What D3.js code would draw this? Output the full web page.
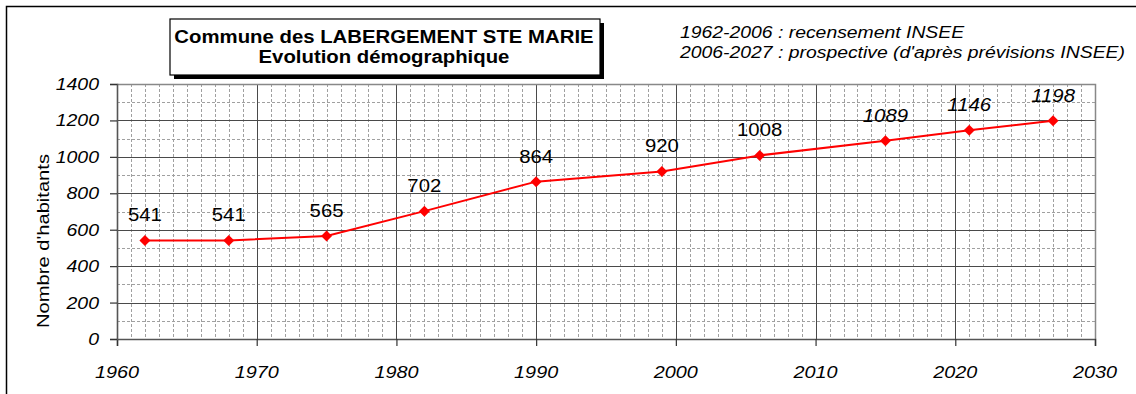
<!DOCTYPE html>
<html>
<head>
<meta charset="utf-8">
<script src="https://cdn.jsdelivr.net/npm/d3@7/dist/d3.min.js"></script>
<style>
  html, body { margin: 0; padding: 0; background: #fff; }
  svg { display: block; font-family: "Liberation Sans", Arial, sans-serif; }
</style>
</head>
<body>
<svg id="chart" width="1136" height="394"></svg>
<script>
// Population of the commune, census years and projections
const years = [1962, 1968, 1975, 1982, 1990, 1999, 2006, 2015, 2021, 2027];
const population = [541, 541, 565, 702, 864, 920, 1008, 1089, 1146, 1198];
// Projected values (after 2006) are labelled in italics
const projected = [false, false, false, false, false, false, false, true, true, true];

const xTicks = [1960, 1970, 1980, 1990, 2000, 2010, 2020, 2030];
const yTicks = [0, 200, 400, 600, 800, 1000, 1200, 1400];

const titleLines = ["Commune des LABERGEMENT STE MARIE", "Evolution démographique"];
const noteLines = ["1962-2006 : recensement INSEE", "2006-2027 : prospective (d'après prévisions INSEE)"];
const yTitle = "Nombre d'habitants";

const svg = d3.select("#chart");

// Widen glyphs horizontally by factor k (the chart's typeface is set wide)
function widen(sel, k) {
  sel.each(function () {
    const len = this.getComputedTextLength();
    d3.select(this).attr("textLength", len * k).attr("lengthAdjust", "spacingAndGlyphs");
  });
}

// Outer chart frame
svg.append("rect")
  .attr("x", 6.5).attr("y", 6.5)
  .attr("width", 1140).attr("height", 400)
  .attr("fill", "none").attr("stroke", "#000").attr("stroke-width", 1.5);

const plot = { left: 117, right: 1095, top: 84, bottom: 339 };

const x = d3.scaleLinear().domain([1960, 2030]).range([plot.left, plot.right]);
const y = d3.scaleLinear().domain([0, 1400]).range([plot.bottom, plot.top]);

const g = svg.append("g");

// Minor grid: every year and every 100 inhabitants, dashed
g.append("g").selectAll("line")
  .data(d3.range(1961, 2030).filter(v => v % 10 !== 0))
  .join("line")
  .attr("x1", d => Math.round(x(d)) + 0.5).attr("x2", d => Math.round(x(d)) + 0.5)
  .attr("y1", plot.top).attr("y2", plot.bottom)
  .attr("stroke", "#a0a0a0").attr("stroke-width", 1).attr("stroke-dasharray", "3,2");
g.append("g").selectAll("line")
  .data(d3.range(100, 1400, 200))
  .join("line")
  .attr("x1", plot.left).attr("x2", plot.right)
  .attr("y1", d => Math.round(y(d)) + 0.5).attr("y2", d => Math.round(y(d)) + 0.5)
  .attr("stroke", "#a0a0a0").attr("stroke-width", 1).attr("stroke-dasharray", "3,2");

// Major grid: decades and 200-step values, solid
g.append("g").selectAll("line")
  .data(xTicks.slice(1, -1))
  .join("line")
  .attr("x1", d => Math.round(x(d)) + 0.5).attr("x2", d => Math.round(x(d)) + 0.5)
  .attr("y1", plot.top).attr("y2", plot.bottom)
  .attr("stroke", "#4a4a4a").attr("stroke-width", 1);
g.append("g").selectAll("line")
  .data(yTicks.slice(1, -1))
  .join("line")
  .attr("x1", plot.left).attr("x2", plot.right)
  .attr("y1", d => Math.round(y(d)) + 0.5).attr("y2", d => Math.round(y(d)) + 0.5)
  .attr("stroke", "#4a4a4a").attr("stroke-width", 1);

// Plot-area border (top and right)
g.append("path")
  .attr("d", `M${plot.left},${plot.top + 0.5}H${plot.right + 0.5}V${plot.bottom}`)
  .attr("fill", "none").attr("stroke", "#888").attr("stroke-width", 1.5);

// Axes: lines and tick marks from d3.axis, labels drawn below
const xAxis = d3.axisBottom(x).tickValues(xTicks).tickFormat("").tickSize(7);
const yAxis = d3.axisLeft(y).tickValues(yTicks).tickFormat("").tickSize(7);

const xa = svg.append("g").attr("transform", `translate(0,${plot.bottom})`).call(xAxis);
const ya = svg.append("g").attr("transform", `translate(${plot.left},0)`).call(yAxis);
[xa, ya].forEach(a => {
  a.select(".domain").attr("stroke", "#555").attr("stroke-width", 1.6);
  a.selectAll(".tick line").attr("stroke", "#333").attr("stroke-width", 1.2);
  a.selectAll(".tick text").remove();
});

// Tick labels
const xLab = svg.append("g").selectAll("text")
  .data(xTicks)
  .join("text")
  .attr("x", d => x(d))
  .attr("y", 378)
  .attr("text-anchor", "middle")
  .attr("font-size", 16.5).attr("font-style", "italic")
  .text(d => d);
widen(xLab, 1.2);

const yLab = svg.append("g").selectAll("text")
  .data(yTicks)
  .join("text")
  .attr("x", 99)
  .attr("y", d => y(d) + 6)
  .attr("text-anchor", "end")
  .attr("font-size", 16.5).attr("font-style", "italic")
  .text(d => d);
widen(yLab, 1.18);

// Y-axis title
const yt = svg.append("text")
  .attr("transform", "translate(49,241) rotate(-90)")
  .attr("text-anchor", "middle")
  .attr("font-size", 16.5)
  .text(yTitle);
widen(yt, 1.22);

// Series line and markers
const line = d3.line().x((d, i) => x(years[i])).y(d => y(d));
svg.append("path")
  .attr("d", line(population))
  .attr("fill", "none").attr("stroke", "#ff0000").attr("stroke-width", 2);

svg.append("g").selectAll("path")
  .data(population)
  .join("path")
  .attr("d", (d, i) => {
    const cx = x(years[i]), cy = y(d), r = 5.5;
    return `M${cx},${cy - r}L${cx + r},${cy}L${cx},${cy + r}L${cx - r},${cy}Z`;
  })
  .attr("fill", "#ff0000");

// Value labels
const labels = svg.append("g").selectAll("text")
  .data(population)
  .join("text")
  .attr("x", (d, i) => x(years[i]))
  .attr("y", d => y(d) - 19)
  .attr("text-anchor", "middle")
  .attr("font-size", 18.5)
  .attr("font-style", (d, i) => projected[i] ? "italic" : "normal")
  .text(d => d);
widen(labels, 1.1);

// Title box with shadow
const tb = { x: 170, y: 19, w: 430, h: 56 };
svg.append("rect")
  .attr("x", tb.x + 4).attr("y", tb.y + 4).attr("width", tb.w).attr("height", tb.h)
  .attr("fill", "#000");
svg.append("rect")
  .attr("x", tb.x).attr("y", tb.y).attr("width", tb.w).attr("height", tb.h)
  .attr("fill", "#fff").attr("stroke", "#000").attr("stroke-width", 1.2);
const tt = svg.append("g").selectAll("text")
  .data(titleLines)
  .join("text")
  .attr("x", tb.x + tb.w / 2 - 1)
  .attr("y", (d, i) => 43 + i * 20)
  .attr("text-anchor", "middle")
  .attr("font-size", 18).attr("font-weight", "bold")
  .text(d => d);
widen(tt, 1.13);

// Source notes
const nt = svg.append("g").selectAll("text")
  .data(noteLines)
  .join("text")
  .attr("x", 680)
  .attr("y", (d, i) => 38 + i * 20)
  .attr("font-size", 16).attr("font-style", "italic")
  .text(d => d);
widen(nt, 1.21);
</script>
</body>
</html>
